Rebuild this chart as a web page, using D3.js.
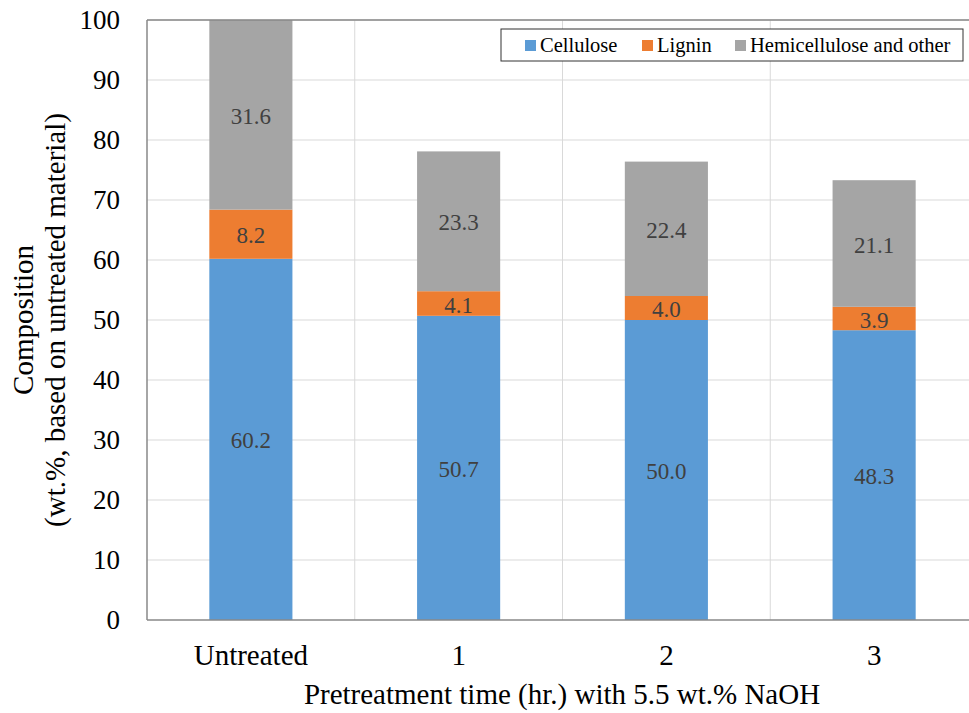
<!DOCTYPE html>
<html>
<head>
<meta charset="utf-8">
<script src="https://cdn.jsdelivr.net/npm/d3@7"></script>
</head>
<body style="margin:0">
<svg id="chart" width="969" height="713">
<text x="562" y="704" text-anchor="middle" font-size="29" font-family="Liberation Serif">Pretreatment time (hr.) with 5.5 wt.% NaOH</text>
<text transform="translate(33,320) rotate(-90)" text-anchor="middle" font-size="29" font-family="Liberation Serif">Composition</text>
<text transform="translate(65,320) rotate(-90)" text-anchor="middle" font-size="29" font-family="Liberation Serif">(wt.%, based on untreated material)</text>
</svg>
<script>
// data
var categories = ["Untreated", "1", "2", "3"];
var seriesNames = ["Cellulose", "Lignin", "Hemicellulose and other"];
var cellulose = [60.2, 50.7, 50.0, 48.3];
var lignin = [8.2, 4.1, 4.0, 3.9];
var hemi = [31.6, 23.3, 22.4, 21.1];
var yTicks = [0, 10, 20, 30, 40, 50, 60, 70, 80, 90, 100];
var colors = ["#5B9BD5", "#ED7D31", "#A5A5A5"];

var FONT = "Liberation Serif";
var svg = d3.select("#chart");
var pLeft = 147, pTop = 20, pRight = 978, pBottom = 620;

var x = d3.scaleBand().domain(categories).range([pLeft, pRight]).paddingInner(0).paddingOuter(0);
var y = d3.scaleLinear().domain([0, 100]).range([pBottom, pTop]);
var barW = x.bandwidth() / 2.5;

// gridlines
svg.insert("g", ":first-child").selectAll("line").data(yTicks.slice(1))
	.enter().append("line")
	.attr("x1", pLeft).attr("x2", pRight)
	.attr("y1", function(d){return y(d);}).attr("y2", function(d){return y(d);})
	.attr("stroke", "#d9d9d9").attr("stroke-width", 1);
svg.insert("g", ":first-child").selectAll("line").data(categories.slice(1))
	.enter().append("line")
	.attr("x1", function(d){return x(d);}).attr("x2", function(d){return x(d);})
	.attr("y1", pTop).attr("y2", pBottom)
	.attr("stroke", "#d9d9d9").attr("stroke-width", 1);

// stacked data
var rows = categories.map(function(c, i) {
	return {cat: c, Cellulose: cellulose[i], Lignin: lignin[i], "Hemicellulose and other": hemi[i]};
});
var stack = d3.stack().keys(seriesNames)(rows);

var layers = svg.append("g").selectAll("g").data(stack)
	.enter().append("g")
	.attr("fill", function(d, i){return colors[i];});

layers.selectAll("rect").data(function(d){return d;})
	.enter().append("rect")
	.attr("x", function(d){return x(d.data.cat) + (x.bandwidth() - barW) / 2;})
	.attr("width", barW)
	.attr("y", function(d){return y(d[1]);})
	.attr("height", function(d){return y(d[0]) - y(d[1]);});

layers.selectAll("text").data(function(d){return d;})
	.enter().append("text")
	.attr("x", function(d){return x(d.data.cat) + x.bandwidth() / 2;})
	.attr("y", function(d){return (y(d[0]) + y(d[1])) / 2 + 9;})
	.attr("text-anchor", "middle")
	.style("font-family", FONT)
	.attr("font-size", 23)
	.attr("fill", "#404040")
	.text(function(d){return (d[1] - d[0]).toFixed(1);});

// plot border
svg.append("line").attr("x1", pLeft).attr("x2", pRight).attr("y1", pTop).attr("y2", pTop)
	.attr("stroke", "#888").attr("stroke-width", 1.5);
svg.append("line").attr("x1", pLeft).attr("x2", pLeft).attr("y1", pTop).attr("y2", pBottom)
	.attr("stroke", "#888").attr("stroke-width", 1.5);
svg.append("line").attr("x1", pLeft).attr("x2", pRight).attr("y1", pBottom).attr("y2", pBottom)
	.attr("stroke", "#888").attr("stroke-width", 1.5);

// axes
var yAxis = d3.axisLeft(y).tickValues(yTicks).tickSize(0).tickPadding(27);
var gy = svg.append("g").attr("transform", "translate(" + pLeft + ",0)").call(yAxis);
gy.attr("font-family", null);
gy.select(".domain").remove();
gy.selectAll("text").attr("font-size", 27).attr("fill", "#000").style("font-family", FONT);

var xAxis = d3.axisBottom(x).tickSize(0).tickPadding(24);
var gx = svg.append("g").attr("transform", "translate(0," + pBottom + ")").call(xAxis);
gx.attr("font-family", null);
gx.select(".domain").remove();
gx.selectAll("text").attr("font-size", 29).attr("fill", "#000").style("font-family", FONT);

// legend
var lg = svg.append("g");
lg.append("rect").attr("x", 501).attr("y", 29).attr("width", 462).attr("height", 32)
	.attr("fill", "#fff").attr("stroke", "#333").attr("stroke-width", 1);
var legX = [525, 642, 735];
seriesNames.forEach(function(n, i) {
	lg.append("rect").attr("x", legX[i]).attr("y", 40).attr("width", 11).attr("height", 11).attr("fill", colors[i]);
	lg.append("text").attr("x", legX[i] + 15).attr("y", 52).style("font-family", FONT)
		.attr("font-size", 20.5).attr("fill", "#000").text(n);
});
</script>
</body>
</html>
